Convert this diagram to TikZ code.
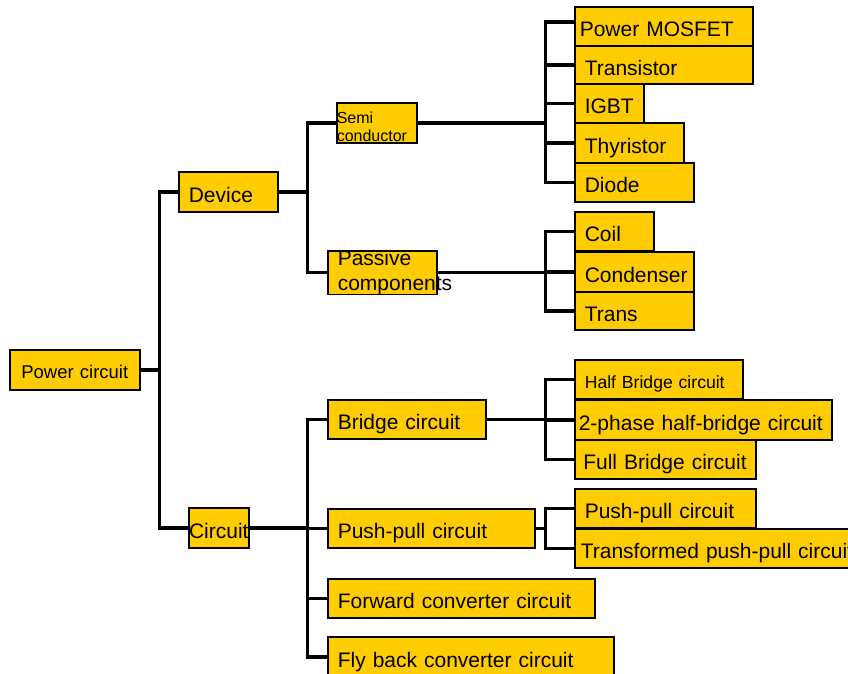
\documentclass[tikz,border=0pt]{standalone}
\usepackage{fontspec}
\setmainfont{Liberation Sans}
\definecolor{boxyellow}{RGB}{255,204,0}
\hyphenpenalty=10000
\exhyphenpenalty=10000

\begin{document}
\begin{tikzpicture}[
    x=1pt, y=-1pt,
    box/.style={draw, fill=boxyellow, line width=1.6pt, anchor=north west,
                inner ysep=0pt, inner xsep=10pt, align=left,
                text height=22pt, text depth=1pt,
                font=\fontsize{21}{25}\selectfont},
    small/.style={font=\fontsize{17.6}{21}\selectfont, text height=19pt, text depth=1.4pt},
    twoline/.style={text depth=},
    link/.style={line width=3.5pt}
]
\useasboundingbox (0,0) rectangle (848,674);

\node[box, font=\fontsize{18.5}{22}\selectfont, align=center, inner xsep=11pt,
      text height=18.3pt, text depth=1.7pt,
      text width=108pt, minimum height=40pt] (power) at (9,349) {Power circuit};
\node[box, text width=79pt, minimum height=40pt] (device) at (178,171) {Device};
\node[box, align=center, inner xsep=0pt, text width=60pt, minimum height=40pt]
      (circuit) at (188,507) {Circuit};

\node[box, twoline, font=\fontsize{16}{18.5}\selectfont, text height=20pt,
      inner xsep=0pt, text width=80pt, minimum height=40pt] (semi) at (336,102)
      {Semi\\conductor};
\node[box, twoline, text height=14.5pt, text width=89pt, minimum height=41pt]
      (passive) at (327,250) {Passive\\components};

\node[box, text width=138pt, minimum height=39pt] (bridge) at (327,399) {Bridge circuit};
\node[box, text width=187pt, minimum height=39pt] (pushpull) at (327,508) {Push-pull circuit};
\node[box, text width=247pt, minimum height=39pt] (forward) at (327,578) {Forward converter circuit};
\node[box, text width=266pt, minimum height=40pt] (flyback) at (327,636) {Fly back converter circuit};

\node[box, inner xsep=5pt, text width=168pt, minimum height=39pt] (mosfet) at (574,6) {Power MOSFET};
\node[box, text width=158pt, minimum height=38pt] (transistor) at (574,45) {Transistor};
\node[box, text width=49pt, minimum height=39pt] (igbt) at (574,83) {IGBT};
\node[box, text width=89pt, minimum height=40pt] (thyristor) at (574,122) {Thyristor};
\node[box, text width=99pt, minimum height=39pt] (diode) at (574,162) {Diode};

\node[box, text width=59pt, minimum height=39pt] (coil) at (574,211) {Coil};
\node[box, text width=99pt, minimum height=40pt] (condenser) at (574,251) {Condenser};
\node[box, text width=99pt, minimum height=38pt] (trans) at (574,291) {Trans};

\node[box, small, text width=148pt, minimum height=39pt] (halfbridge) at (574,359) {Half Bridge circuit};
\node[box, inner xsep=4pt, text width=249pt, minimum height=40pt] (twophase) at (574,399) {2-phase half-bridge circuit};
\node[box, inner xsep=8.5pt, text width=164pt, minimum height=39pt] (fullbridge) at (574,439) {Full Bridge circuit};

\node[box, text width=161pt, minimum height=39pt] (ppleaf) at (574,488) {Push-pull circuit};
\node[box, inner xsep=6pt, text width=294pt, minimum height=39pt] (transformed) at (574,528) {Transformed push-pull circuit};

\draw[link] (power.east) -- ++(19,0) |- (device.west);
\draw[link] (power.east) -- ++(19,0) |- (circuit.west);
\draw[link] (device.east) -- ++(29,0) |- (semi.west);
\draw[link] (device.east) -- ++(29,0) |- (passive.west);
\foreach \sub in {bridge,pushpull,forward,flyback}
    \draw[link] (circuit.east) -- ++(58,0) |- (\sub.west);

\draw[link] (semi.east) -- ++(128,0) |- ([yshift=4.5pt]mosfet.west);
\foreach \leaf in {transistor,igbt,thyristor,diode}
    \draw[link] (semi.east) -- ++(128,0) |- (\leaf.west);
\foreach \leaf in {coil,condenser,trans}
    \draw[link] (passive.east) -- ++(108,0) |- (\leaf.west);
\foreach \leaf in {halfbridge,twophase,fullbridge}
    \draw[link] (bridge.east) -- ++(59,0) |- (\leaf.west);
\foreach \leaf in {ppleaf,transformed}
    \draw[link] (pushpull.east) -- ++(10,0) |- (\leaf.west);

\end{tikzpicture}
\end{document}
